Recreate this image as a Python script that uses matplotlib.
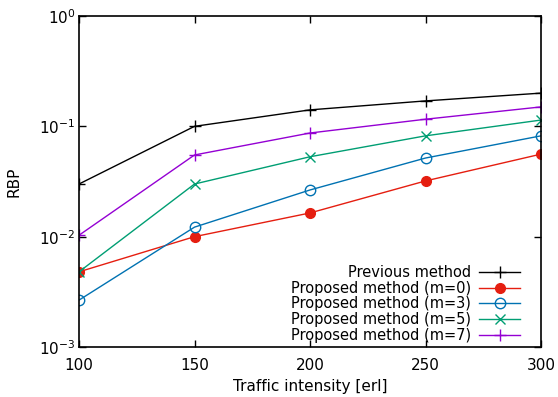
import numpy as np
import matplotlib
matplotlib.use('Agg')
import matplotlib.pyplot as plt

# データ
traffic = [100, 150, 200, 250, 300]
prev = [0.030, 0.100, 0.141, 0.170, 0.200]
m0 = [0.0048, 0.0100, 0.0164, 0.032, 0.056]
m3 = [0.00266, 0.0122, 0.0265, 0.0516, 0.082]
m5 = [0.0048, 0.030, 0.053, 0.082, 0.114]
m7 = [0.0103, 0.055, 0.087, 0.116, 0.150]

plt.rcParams['font.family'] = ['DejaVu Sans']
plt.rcParams['mathtext.default'] = 'regular'

fig = plt.figure(figsize=(5.58, 3.97), dpi=100)
ax = fig.add_axes([79 / 558, 1 - 347 / 397, (541 - 79) / 558, (347 - 16) / 397])

ax.plot(traffic, prev, color='black', marker='+', ms=8.5, mew=1.0, lw=1.0, label='Previous method')
ax.plot(traffic, m0, color='#e51e10', marker='o', ms=7, mew=1.0, lw=1.0, label='Proposed method (m=0)')
ax.plot(traffic, m3, color='#0072b2', marker='o', ms=7.5, mfc='none', mew=1.0, lw=1.0, label='Proposed method (m=3)')
ax.plot(traffic, m5, color='#009e73', marker='x', ms=7, mew=1.0, lw=1.0, label='Proposed method (m=5)')
ax.plot(traffic, m7, color='#9400d3', marker='+', ms=8.5, mew=1.0, lw=1.0, label='Proposed method (m=7)')

ax.set_yscale('log')
ax.set_ylim(1e-3, 1)
ax.set_xlim(100, 300)
ax.set_xticks([100, 150, 200, 250, 300])
ax.minorticks_off()
ax.tick_params(which='both', direction='in', top=True, right=True, labelsize=11, length=5, width=1)
ax.tick_params(axis='x', pad=8)
ax.tick_params(axis='y', pad=2.5)
for s in ax.spines.values():
    s.set_linewidth(1.2)

ax.set_xlabel('Traffic intensity [erl]', fontsize=11)
ax.set_ylabel('RBP', fontsize=11)
ax.xaxis.set_label_coords(0.5, -0.097)
ax.yaxis.set_label_coords(-0.125, 0.5)

leg = ax.legend(loc='lower right', bbox_to_anchor=(0.974, -0.014), frameon=False, markerfirst=False,
                fontsize=10.5, handlelength=2.8, labelspacing=0.05, handletextpad=0.6, borderaxespad=0.2)
for col in leg._legend_box._children[-1]._children:
    col.align = 'right'

fig.savefig('out.png', dpi=100)
